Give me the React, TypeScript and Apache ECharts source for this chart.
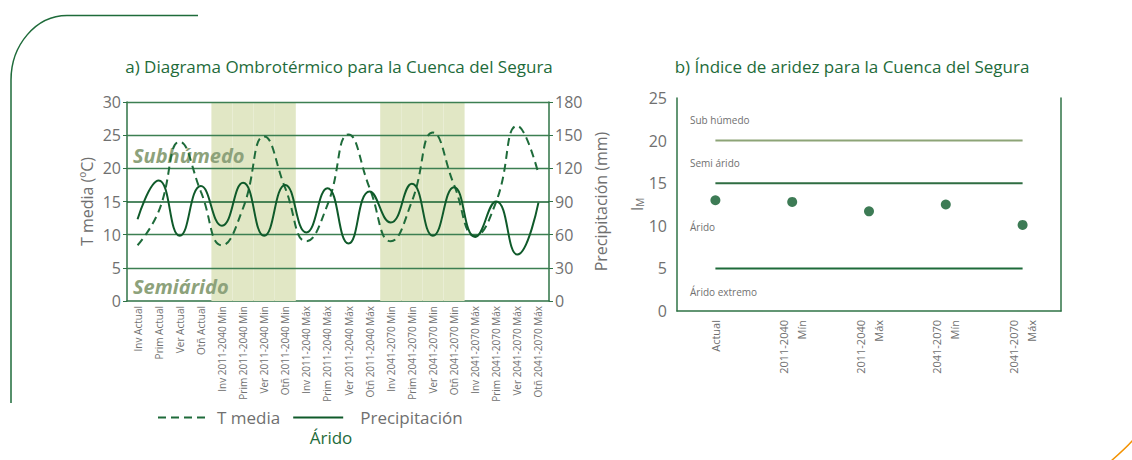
import React, { useEffect, useRef } from "react";
import * as echarts from "echarts";

// ---------- Data: a) Diagrama Ombrotérmico ----------
const categoriesA = [
  "Inv Actual", "Prim Actual", "Ver Actual", "Otñ Actual",
  "Inv 2011-2040 Min", "Prim 2011-2040 Min", "Ver 2011-2040 Min", "Otñ 2011-2040 Min",
  "Inv 2011-2040 Máx", "Prim 2011-2040 Máx", "Ver 2011-2040 Máx", "Otñ 2011-2040 Máx",
  "Inv 2041-2070 Min", "Prim 2041-2070 Min", "Ver 2041-2070 Min", "Otñ 2041-2070 Min",
  "Inv 2041-2070 Máx", "Prim 2041-2070 Máx", "Ver 2041-2070 Máx", "Otñ 2041-2070 Máx",
];
const tMedia = [8.4, 13.5, 24.0, 16.5, 8.4, 14.0, 24.8, 17.0, 9.0, 14.5, 25.1, 17.0, 9.0, 15.0, 25.4, 17.5, 9.8, 15.0, 26.4, 19.2];
const precipitacion = [74, 109, 59, 104, 68, 107, 59, 105, 62, 102, 52, 99, 71, 106, 59, 103, 58, 90, 42, 89];
const shadedScenarios = ["2011-2040 Min", "2041-2070 Min"];
const tempGridValues = [5, 10, 15, 20, 25, 30];

// ---------- Data: b) Índice de aridez ----------
const categoriesB = ["Actual", "2011-2040\nMín", "2011-2040\nMáx", "2041-2070\nMín", "2041-2070\nMáx"];
const indiceAridez = [13.0, 12.8, 11.7, 12.5, 10.1];
const limiteSubhumedo = 20;
const limiteSemiarido = 15;
const limiteArido = 5;

const GREEN = "#1e6b3a";
const AXIS_GREEN = "#2f7346";
const GRAY = "#707070";
const FONT = "Open Sans";

export default function App() {
  const ref = useRef<HTMLDivElement>(null);

  useEffect(() => {
    if (!ref.current) return;
    const chart = echarts.init(ref.current, undefined, { renderer: "svg" });

    const shadeData = categoriesA.map((c) =>
      shadedScenarios.some((s) => c.endsWith(s)) ? 30 : null
    );
    const flat = (v: number) => categoriesB.map(() => v);

    const option: any = {
      animation: false,
      textStyle: { fontFamily: FONT },
      legend: {
        data: [
          { name: "T media" },
          { name: "Precipitación", textStyle: { padding: [0, 0, 0, 12] } },
        ],
        left: 152,
        top: 404,
        itemWidth: 50,
        itemHeight: 14,
        itemGap: 12,
        itemStyle: { opacity: 0 },
        textStyle: { color: GRAY, fontSize: 17, fontFamily: FONT, padding: [0, 0, 0, 4] },
      },
      grid: [
        { left: 127, top: 102, width: 422, height: 199 },
        { left: 677, top: 98, width: 384, height: 213 },
      ],
      xAxis: [
        {
          type: "category",
          gridIndex: 0,
          data: categoriesA,
          boundaryGap: true,
          axisLine: { lineStyle: { color: AXIS_GREEN, width: 1.5 } },
          axisTick: { show: false },
          axisLabel: { rotate: 90, interval: 0, fontSize: 10, color: GRAY, margin: 5, fontFamily: FONT },
        },
        {
          type: "category",
          gridIndex: 1,
          data: categoriesB,
          boundaryGap: true,
          axisLine: { lineStyle: { color: AXIS_GREEN, width: 1.5 } },
          axisTick: { show: false },
          axisLabel: { rotate: 90, interval: 0, fontSize: 11, lineHeight: 18, color: GRAY, margin: 9, fontFamily: FONT },
        },
      ],
      yAxis: [
        {
          type: "value",
          gridIndex: 0,
          position: "left",
          min: 0,
          max: 30,
          interval: 5,
          axisLine: { show: true, lineStyle: { color: AXIS_GREEN, width: 1.5 } },
          axisTick: { show: true, length: 4, lineStyle: { color: AXIS_GREEN } },
          axisLabel: { fontSize: 16, color: GRAY, margin: 6, fontFamily: FONT },
          splitLine: { show: false },
          name: "T media (ºC)",
          nameLocation: "middle",
          nameRotate: 90,
          nameGap: 32,
          nameTextStyle: { fontSize: 16, color: GRAY, fontFamily: FONT },
        },
        {
          type: "value",
          gridIndex: 0,
          position: "right",
          min: 0,
          max: 180,
          interval: 30,
          axisLine: { show: true, lineStyle: { color: AXIS_GREEN, width: 1.5 } },
          axisTick: { show: true, length: 4, lineStyle: { color: AXIS_GREEN } },
          axisLabel: { fontSize: 16, color: GRAY, margin: 6, fontFamily: FONT },
          splitLine: { show: false },
          name: "Precipitación (mm)",
          nameLocation: "middle",
          nameRotate: 90,
          nameGap: 44,
          nameTextStyle: { fontSize: 16, color: GRAY, fontFamily: FONT },
        },
        {
          type: "value",
          gridIndex: 1,
          position: "left",
          min: 0,
          max: 25,
          interval: 5,
          axisLine: { show: true, lineStyle: { color: AXIS_GREEN, width: 1.5 } },
          axisTick: { show: false },
          axisLabel: { fontSize: 16, color: GRAY, margin: 10, fontFamily: FONT },
          splitLine: { show: false },
          name: "I{s|M}",
          nameLocation: "middle",
          nameRotate: 90,
          nameGap: 32,
          nameTextStyle: {
            fontSize: 17,
            color: GRAY,
            fontFamily: FONT,
            rich: { s: { fontSize: 10, color: GRAY, verticalAlign: "bottom", fontFamily: FONT } },
          },
        },
        {
          type: "value",
          gridIndex: 1,
          position: "right",
          min: 0,
          max: 25,
          interval: 5,
          axisLine: { show: true, lineStyle: { color: AXIS_GREEN, width: 1.5 } },
          axisTick: { show: false },
          axisLabel: { show: false },
          splitLine: { show: false },
        },
      ],
      series: [
        {
          name: "Escenarios Min",
          type: "bar",
          xAxisIndex: 0,
          yAxisIndex: 0,
          data: shadeData,
          barWidth: "100%",
          silent: true,
          z: 0,
          itemStyle: { color: "#e1e7c5" },
          markLine: {
            silent: true,
            symbol: "none",
            z: 1,
            label: { show: false },
            lineStyle: { color: "#3c7f52", width: 1.3, type: "solid" },
            data: tempGridValues.map((v) => ({
              yAxis: v,
              lineStyle: v === 15 ? { color: "#14602f", width: 1.5 } : undefined,
            })),
          },
        },
        {
          name: "T media",
          type: "line",
          xAxisIndex: 0,
          yAxisIndex: 0,
          data: tMedia,
          smooth: 0.5,
          symbol: "none",
          z: 3,
          lineStyle: { color: GREEN, width: 2, type: [8, 5] },
          itemStyle: { color: GREEN },
        },
        {
          name: "Precipitación",
          type: "line",
          xAxisIndex: 0,
          yAxisIndex: 1,
          data: precipitacion,
          smooth: 0.5,
          symbol: "none",
          z: 3,
          lineStyle: { color: "#0f5a2a", width: 2 },
          itemStyle: { color: "#0f5a2a" },
        },
        {
          name: "Límite subhúmedo",
          type: "line",
          xAxisIndex: 1,
          yAxisIndex: 2,
          data: flat(limiteSubhumedo),
          symbol: "none",
          lineStyle: { color: "#8da477", width: 2 },
        },
        {
          name: "Límite semiárido",
          type: "line",
          xAxisIndex: 1,
          yAxisIndex: 2,
          data: flat(limiteSemiarido),
          symbol: "none",
          lineStyle: { color: "#2f6d42", width: 2 },
        },
        {
          name: "Límite árido",
          type: "line",
          xAxisIndex: 1,
          yAxisIndex: 2,
          data: flat(limiteArido),
          symbol: "none",
          lineStyle: { color: GREEN, width: 2 },
        },
        {
          name: "IM",
          type: "scatter",
          xAxisIndex: 1,
          yAxisIndex: 2,
          data: indiceAridez,
          symbolSize: 10,
          z: 4,
          itemStyle: { color: "#0d5a2b" },
        },
      ],
      graphic: [
        {
          type: "text",
          x: 339,
          y: 66,
          style: {
            text: "a) Diagrama Ombrotérmico para la Cuenca del Segura",
            fill: GREEN,
            font: `17px '${FONT}'`,
            textAlign: "center",
            textVerticalAlign: "middle",
          },
        },
        {
          type: "text",
          x: 852,
          y: 66,
          style: {
            text: "b) Índice de aridez para la Cuenca del Segura",
            fill: GREEN,
            font: `17px '${FONT}'`,
            textAlign: "center",
            textVerticalAlign: "middle",
          },
        },
        {
          type: "text",
          x: 133,
          y: 155,
          z: 1,
          silent: true,
          style: {
            text: "Subhúmedo",
            fill: "#8da27b",
            font: `italic bold 20px '${FONT}'`,
            textAlign: "left",
            textVerticalAlign: "middle",
          },
        },
        {
          type: "text",
          x: 133,
          y: 286,
          z: 1,
          silent: true,
          style: {
            text: "Semiárido",
            fill: "#8da27b",
            font: `italic bold 20px '${FONT}'`,
            textAlign: "left",
            textVerticalAlign: "middle",
          },
        },
        ...[
          ["Sub húmedo", 120],
          ["Semi árido", 163],
          ["Árido", 227],
          ["Árido extremo", 292],
        ].map(([t, y]) => ({
          type: "text",
          x: 690,
          y: y as number,
          style: {
            text: t as string,
            fill: GRAY,
            font: `10px '${FONT}'`,
            textAlign: "left",
            textVerticalAlign: "middle",
          },
        })),
        {
          type: "text",
          x: 331,
          y: 437,
          style: {
            text: "Árido",
            fill: GREEN,
            font: `17px '${FONT}'`,
            textAlign: "center",
            textVerticalAlign: "middle",
          },
        },
        {
          type: "polyline",
          shape: { points: [[198, 15.5], [67, 15.5]] },
          style: { stroke: GREEN, lineWidth: 1.5, fill: null },
        },
        {
          type: "bezierCurve",
          shape: { x1: 67, y1: 15.5, cpx1: 36, cpy1: 15.5, cpx2: 11, cpy2: 45, x2: 11, y2: 80 },
          style: { stroke: GREEN, lineWidth: 1.5, fill: null },
        },
        {
          type: "polyline",
          shape: { points: [[11, 80], [11, 403]] },
          style: { stroke: GREEN, lineWidth: 1.5, fill: null },
        },
        {
          type: "bezierCurve",
          shape: { x1: 1111, y1: 461, cpx1: 1119, cpy1: 454, cpx2: 1126, cpy2: 448, x2: 1133, y2: 440 },
          style: { stroke: "#f39200", lineWidth: 1.5, fill: null },
        },
      ],
    };

    chart.setOption(option);
    return () => chart.dispose();
  }, []);

  return (
    <div
      ref={ref}
      style={{ position: "fixed", left: 0, top: 0, width: 1132, height: 460, background: "#ffffff" }}
    />
  );
}
